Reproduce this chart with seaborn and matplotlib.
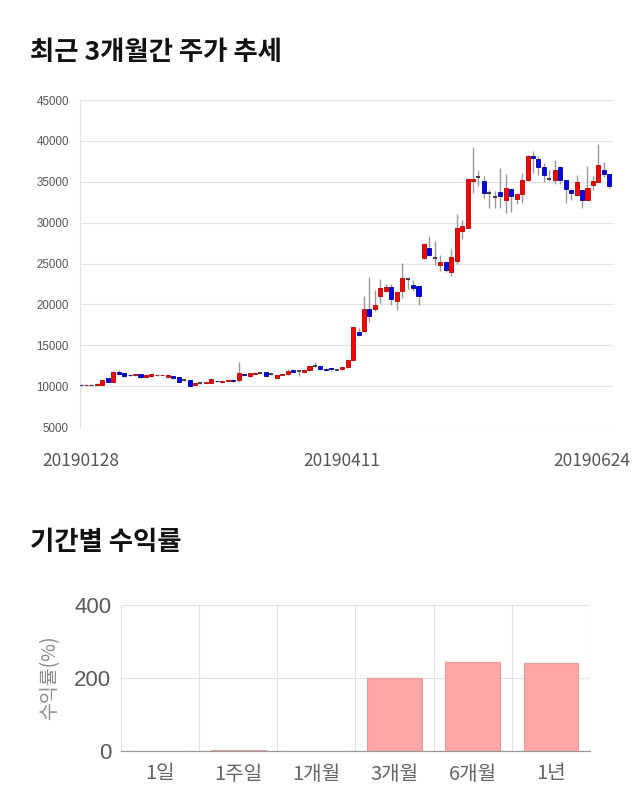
import matplotlib
matplotlib.use("Agg")
import matplotlib.pyplot as plt
import seaborn as sns
import numpy as np
import pandas as pd
from matplotlib.transforms import ScaledTranslation

# ---------------- data ----------------
opens = [10200, 10150, 10180, 10130, 10150, 10940, 10530, 11760, 11560, 11400,
         11310, 11480, 11150, 11270, 11390, 11350, 11110, 11190, 11070, 10700,
         10740, 10160, 10370, 10370, 10410, 10680, 10450, 10620, 10780, 10740,
         11480, 11230, 11520, 11640, 11680, 11430, 10980, 11350, 11430, 11930,
         11800, 11680, 11930, 12500, 12460, 12130, 12170, 12000, 12040, 12300,
         13250, 16620, 16700, 19490, 19410, 21030, 21600, 22120, 20380, 21640,
         23060, 22410, 22200, 25690, 26840, 25690, 24760, 25200, 23980, 25370,
         28960, 29370, 35100, 35550, 35140, 33600, 33150, 33720, 32820, 34080,
         32900, 33470, 35200, 38150, 37740, 36860, 35280, 35200, 36820, 35200,
         33950, 33350, 33950, 32790, 34560, 35000, 36450, 35970]
highs = [10250, 10250, 10250, 10330, 10750, 11000, 11800, 11970, 11640, 11520,
         11470, 11520, 11430, 11520, 11480, 11430, 11350, 11250, 11100, 10780,
         10780, 10380, 10420, 10480, 10950, 10740, 10600, 10780, 10820, 12950,
         11520, 11600, 11700, 11700, 11720, 11480, 11420, 11520, 12130, 12050,
         11850, 12050, 12460, 12950, 12500, 12180, 12210, 12060, 12380, 13280,
         17250, 17060, 21030, 23380, 21720, 23060, 22450, 22450, 21600, 25080,
         23260, 22980, 22250, 27500, 28350, 27730, 26020, 25300, 26800, 31000,
         30290, 35500, 39310, 36410, 35720, 34000, 33880, 36740, 35920, 34200,
         33600, 36090, 38300, 38710, 38190, 37300, 36410, 37700, 36900, 35200,
         34000, 35890, 34000, 36900, 35690, 39600, 37380, 36000]
lows = [10100, 10100, 10100, 10100, 10100, 10500, 10500, 11450, 11150, 11270,
        11270, 11000, 11100, 11230, 11230, 11310, 11080, 10850, 10450, 10620,
        10050, 10120, 10300, 10330, 10380, 10560, 10420, 10580, 10530, 10530,
        11260, 11180, 11480, 11600, 11230, 11380, 10940, 11310, 11400, 11680,
        11190, 11640, 11890, 12300, 12000, 11800, 11900, 11950, 12000, 12250,
        13200, 16090, 16600, 17870, 19170, 20140, 21500, 19940, 19290, 20830,
        21920, 21640, 19900, 25600, 25900, 24800, 24140, 23940, 23450, 24960,
        27970, 29300, 33680, 34490, 32980, 31840, 31840, 31840, 31230, 31350,
        32330, 32460, 35100, 36090, 35890, 35000, 35080, 34680, 34680, 32460,
        32790, 33300, 31820, 32790, 34000, 35000, 35570, 34300]
closes = [10150, 10180, 10130, 10270, 10700, 10530, 11720, 11480, 11270, 11390,
          11430, 11150, 11390, 11480, 11400, 11380, 11310, 10940, 10490, 10700,
          10080, 10330, 10370, 10450, 10900, 10640, 10570, 10740, 10660, 11640,
          11310, 11560, 11640, 11640, 11270, 11430, 11390, 11480, 11890, 11720,
          11800, 12010, 12420, 12500, 12050, 11930, 12050, 12000, 12330, 13230,
          17180, 16290, 19410, 18600, 19980, 21960, 22160, 20670, 21520, 23180,
          23060, 22040, 21020, 27410, 26100, 25690, 25160, 24180, 25820, 29370,
          29650, 35390, 35390, 35550, 33680, 33600, 33150, 33230, 34210, 33230,
          33500, 35200, 38190, 37900, 36860, 35890, 35280, 36490, 35200, 34160,
          33670, 34960, 32790, 34240, 35080, 37100, 35970, 34480]

date_tick_pos = [0, 48, 97]
date_tick_labels = ["20190128", "20190411", "20190624"]
price_ticks = [5000, 10000, 15000, 20000, 25000, 30000, 35000, 40000, 45000]

periods = ["1일", "1주일", "1개월", "3개월", "6개월", "1년"]
returns = [0.0, 3.0, 0.5, 200.0, 243.0, 241.0]
return_ticks = [0, 200, 400]

# ---------------- style ----------------
sns.set_theme(style="white")
plt.rcParams['font.family'] = ['Noto Sans CJK KR', 'DejaVu Sans']
latin_first = ['Liberation Sans', 'Noto Sans CJK KR']

fig = plt.figure(figsize=(6.4, 8.1), dpi=100)

# ---------------- candle chart ----------------
ax1 = fig.add_axes([0.125, 0.4728, 0.833, 0.4037])
df = pd.DataFrame({"open": opens, "high": highs, "low": lows, "close": closes})
df["x"] = np.arange(len(df))

for r in df.itertuples():
    if r.close > r.open:
        fc, ec = "#ff0000", "#b40000"
    elif r.close < r.open:
        fc, ec = "#0000ff", "#00008c"
    else:
        fc, ec = "#222222", "#222222"
    ax1.vlines(r.x, r.low, r.high, color="#9a9a9a", lw=1.0, zorder=2)
    if r.close == r.open:
        ax1.hlines(r.close, r.x - 0.37, r.x + 0.37, color=ec, lw=1.2, zorder=3)
    else:
        ax1.bar(r.x, r.close - r.open, bottom=r.open, width=0.74,
                color=fc, edgecolor=ec, linewidth=0.6, zorder=3)

ax1.set_ylim(5000, 45000)
ax1.set_xlim(-0.1, 97.7)
ax1.set_yticks(price_ticks)
ax1.set_yticklabels([str(v) for v in price_ticks], fontsize=8.3, color="#555555",
                    family=latin_first)
ax1.set_xticks(date_tick_pos)
ax1.set_xticklabels(date_tick_labels, fontsize=12.5, color="#555555")
ax1.tick_params(axis="y", length=8, width=0.8, color="#d8d8d8", pad=0)
ax1.tick_params(axis="x", length=0, pad=18)
ax1.grid(axis="y", color="#e3e3e3", lw=0.8)
ax1.set_axisbelow(True)
for s in ["top", "right", "bottom"]:
    ax1.spines[s].set_visible(False)
ax1.spines["left"].set_color("#e3e3e3")
ax1.spines["left"].set_linewidth(0.8)
lbls = ax1.get_xticklabels()
lbls[-1].set_transform(lbls[-1].get_transform() +
                       ScaledTranslation(-0.17, 0, fig.dpi_scale_trans))

fig.text(30 / 640, 1 - 52 / 810, "최근 3개월간 주가 추세", fontsize=19,
         fontweight="bold", color="#111111", va="center", ha="left")

# ---------------- returns chart ----------------
ax2 = fig.add_axes([121 / 640, 1 - 751 / 810, (590 - 121) / 640, (751 - 605) / 810])
rdf = pd.DataFrame({"period": periods, "ret": returns})
sns.barplot(data=rdf, x="period", y="ret", ax=ax2, color="#ffa6a6",
            saturation=1, width=0.7, edgecolor="#eb9a9a", linewidth=0.8)
ax2.set_ylim(0, 400)
ax2.set_xlim(-0.5, 5.5)
ax2.set_yticks(return_ticks)
ax2.set_yticklabels([str(v) for v in return_ticks], fontsize=16, color="#5a5a5a",
                    family=latin_first)
ax2.set_xticks(range(len(periods)))
ax2.set_xticklabels(periods, fontsize=14.5, color="#666666")
ax2.set_xticks(np.arange(-0.5, 6.0, 1.0), minor=True)
ax2.tick_params(axis="x", which="major", length=0, pad=9)
ax2.tick_params(axis="x", which="minor", length=8, color="#e3e3e3", width=0.8)
ax2.tick_params(axis="y", length=7, width=0.8, color="#d8d8d8", pad=0)
ax2.grid(axis="y", which="major", color="#e3e3e3", lw=0.8)
ax2.grid(axis="x", which="minor", color="#e3e3e3", lw=0.8)
ax2.set_axisbelow(True)
ax2.set_xlabel("")
ax2.set_ylabel("수익률(%)", fontsize=14, color="#8c8c8c", labelpad=10)
for s in ["top", "right", "left"]:
    ax2.spines[s].set_visible(False)
ax2.spines["bottom"].set_color("#999999")
ax2.spines["bottom"].set_linewidth(0.9)

fig.text(30 / 640, 1 - 543 / 810, "기간별 수익률", fontsize=19,
         fontweight="bold", color="#111111", va="center", ha="left")

fig.savefig("out.png", dpi=100)
